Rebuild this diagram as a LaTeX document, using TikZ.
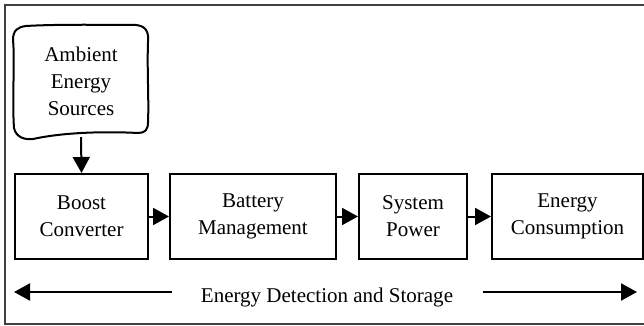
\documentclass[tikz,border=0pt]{standalone}
\usepackage{fontspec}
\setmainfont{Liberation Serif}
\usetikzlibrary{arrows.meta}
\tikzset{
  blk/.style={draw, line width=2pt, inner sep=0pt, align=center, font=\fontsize{21}{27}\selectfont},
  txt/.style={inner sep=0pt, align=center, font=\fontsize{21}{27}\selectfont},
  arr/.style={line width=2pt, -{Triangle[length=16pt,width=17pt]}},
}
\begin{document}
\begin{tikzpicture}[x=1pt,y=-1pt]
\useasboundingbox (0,0) rectangle (644,326);
% outer frame (right side falls outside the picture)
\draw[line width=1.2pt, black!75] (660,5) -- (5,5) -- (5,324) -- (660,324);
% ambient source shape
\draw[line width=2pt, line join=round]
  (26,26) .. controls (60,24) and (110,25) .. (136,25)
  .. controls (146,26) and (149,32) .. (148,42)
  .. controls (147,70) and (149,100) .. (148,122)
  .. controls (148,130) and (145,133) .. (138,133)
  .. controls (100,131) and (60,133) .. (33,139)
  .. controls (24,140) and (16,137) .. (14,128)
  .. controls (12,100) and (15,60) .. (13,40)
  .. controls (13,30) and (18,27) .. (26,26) -- cycle;
\node[txt, minimum width=135pt, minimum height=112pt] (amb) at (81,81) {Ambient\\Energy\\Sources};
% blocks
\node[blk, minimum width=133pt, minimum height=85pt] (boost) at (81.5,216.5) {Boost\\Converter};
\node[blk, minimum width=166pt, minimum height=85pt] (batt) at (253,216.5) {Battery\\Management};
\node[blk, minimum width=108pt, minimum height=85pt] (sys) at (413,216.5) {System\\Power};
\node[blk, minimum width=151pt, minimum height=85pt] (cons) at (567.5,216.5) {Energy\\Consumption};
% connectors
\draw[arr] (amb.south) -- (boost.north);
\draw[arr] (boost.east) -- (batt.west);
\draw[arr] (batt.east) -- (sys.west);
\draw[arr] (sys.east) -- (cons.west);
% bottom label and arrows
\node[txt, anchor=base] (lbl) at (327,302) {Energy Detection and Storage};
\coordinate (lS) at (172,292);
\coordinate (lE) at (14,292);
\coordinate (rS) at (483,292);
\coordinate (rE) at (637,292);
\draw[arr] (lS) -- (lE);
\draw[arr] (rS) -- (rE);
\end{tikzpicture}
\end{document}
